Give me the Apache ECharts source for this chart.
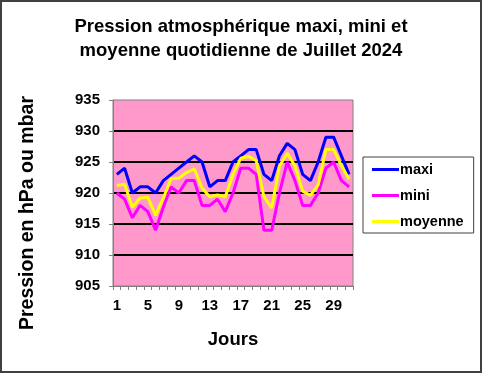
<!DOCTYPE html>
<html><head><meta charset="utf-8">
<script src="https://cdn.jsdelivr.net/npm/echarts@6/dist/echarts.min.js"></script>
<style>html,body{margin:0;padding:0;background:#fff}#c{width:482px;height:373px}</style>
</head><body><div id="c"></div>
<script>
const days = Array.from({length:31},(_,i)=>String(i+1));
const maxi = [923,924,920,921,921,920,922,923,924,925,926,925,921,922,922,925,926,927,927,923,922,926,928,927,923,922,925,929,929,926,923];
const mini = [920,919,916,918,917,914,917.7,921,920,922,922,918,918,919,917,920,924,924,923,914,914,920,925,922,918,918,920,924,925,922,921];
const moyenne = [921.2,921.4,917.7,919.2,919.3,916.4,919.2,922.3,922.4,923.3,923.9,920.8,919.4,919.7,919.4,923,925.6,925.9,925.2,919.4,917.6,924.3,926.4,924.4,920.3,919.6,921.3,927,927,924.4,922.2];
const yTicks = [905,910,915,920,925,930,935];
const F = '"Liberation Sans", Arial, sans-serif';
const chart = echarts.init(document.getElementById('c'), null, {renderer:'canvas'});
const mk = (name, data, color) => ({name, type:'line', data, symbol:'none', lineStyle:{color, width:3}, itemStyle:{color}, z:5});
chart.setOption({
  animation:false,
  backgroundColor:'#fff',
  title:{text:'Pression atmosphérique maxi, mini et\nmoyenne quotidienne de Juillet 2024', left:236, top:10, textAlign:'center',
    textStyle:{fontFamily:F, fontWeight:'bold', fontSize:18.5, lineHeight:24, color:'#000'}},
  legend:{orient:'vertical', left:363, top:157, backgroundColor:'#fff', borderColor:'#404040', borderWidth:1,
    padding:[5,10,4,9], itemWidth:27, itemHeight:3, itemGap:11, icon:'rect',
    textStyle:{fontFamily:F, fontWeight:'bold', fontSize:14.5, color:'#000', lineHeight:14, padding:[0,0,0,-4]},
    data:['maxi','mini','moyenne']},
  graphic:[
    {type:'rect', shape:{x:1,y:1,width:480,height:371}, style:{fill:'none', stroke:'#404040', lineWidth:2}, silent:true},
    {type:'text', x:28, y:213, rotation:Math.PI/2, style:{text:'Pression en hPa ou mbar', fontFamily:F, fontWeight:'bold', fontSize:19.5, fill:'#000', align:'center', verticalAlign:'middle'}, silent:true}
  ],
  grid:{left:113, top:100, width:240, height:186, show:true, backgroundColor:'#FF99CC', borderColor:'#808080', borderWidth:1},
  xAxis:{type:'category', data:days, boundaryGap:true,
    name:'Jours', nameLocation:'middle', nameGap:44, nameTextStyle:{fontFamily:F, fontWeight:'bold', fontSize:18.5, color:'#000'},
    axisLine:{lineStyle:{color:'#808080', width:1}},
    axisTick:{show:true, interval:0, length:4, lineStyle:{color:'#808080'}},
    axisLabel:{interval:3, margin:12, fontFamily:F, fontWeight:'bold', fontSize:15, color:'#000'},
    splitLine:{show:false}},
  yAxis:{type:'value', min:905, max:935, interval:5,
    axisLine:{show:true, lineStyle:{color:'#808080'}},
    axisTick:{show:true, length:4, lineStyle:{color:'#808080'}},
    axisLabel:{margin:13, fontFamily:F, fontWeight:'bold', fontSize:15, color:'#000', formatter:v=>yTicks.includes(v)?String(v):''},
    splitLine:{show:true, showMinLine:false, showMaxLine:false, lineStyle:{color:'#000', width:2}}},
  series:[mk('maxi',maxi,'#0000FF'), mk('mini',mini,'#FF00FF'), mk('moyenne',moyenne,'#FFFF00')]
});
</script></body></html>
